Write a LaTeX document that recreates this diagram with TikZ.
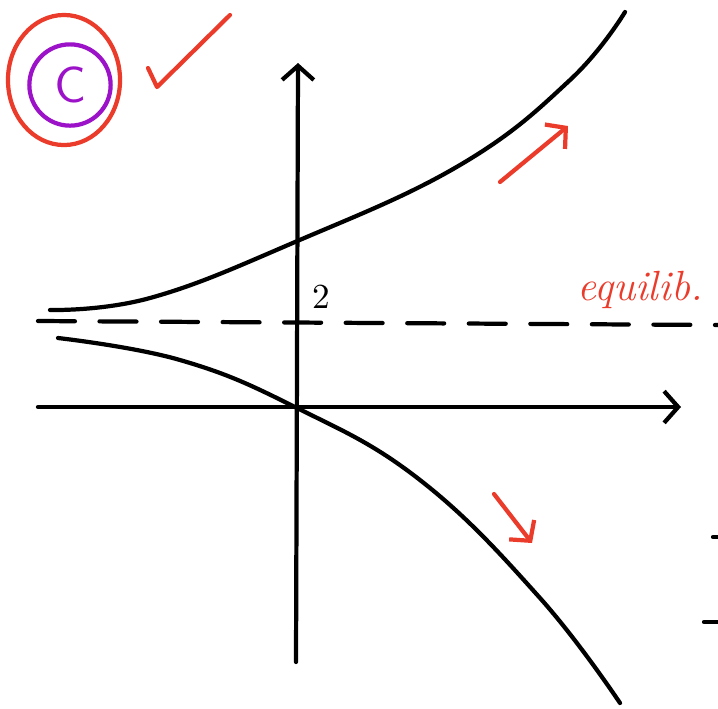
\documentclass[tikz,border=0pt]{standalone}
\usepackage{amsmath}
\usepackage{xcolor}
\usetikzlibrary{arrows.meta,shapes.geometric}
\definecolor{penred}{HTML}{EA3B2B}
\definecolor{penpurple}{HTML}{9C12C8}
\tikzset{
  pen/.style={line width=1.2pt, line cap=round, line join=round},
  redpen/.style={pen, penred},
  barb/.style={-{Straight Barb[length=4pt,width=9pt]}}
}

\begin{document}
\begin{tikzpicture}[x=0.01cm, y=-0.01cm]
    \useasboundingbox (0,0) rectangle (718,708);
    % axes
    \coordinate (O) at (295,407); \coordinate (xl) at (38,407);
    \coordinate (xr) at (681,407); \coordinate (yb) at (296,662);
    \coordinate (yt) at (298,63);
    \draw[pen, barb] (xl) -- (xr);
    \draw[pen, barb] (yb) -- (yt);
    % equilibrium
    \coordinate (el) at (38,321); \coordinate (er) at (718,325);
    \draw[pen, dash pattern=on 10.5pt off 7pt] (el) -- (er);
    \node (two) at (321,297) {$2$};
    \node[text=penred] (eq) at (640,290) {\large\itshape equilib.};
    % solution curves
    \draw[pen] plot[smooth, tension=0.7] coordinates {(50,310) (150,298)
      (295,242) (460,165) (570,80) (625,12)};
    \draw[pen] plot[smooth, tension=0.7] coordinates {(58,338) (180,360)
      (295,407) (420,480) (540,598) (620,703)};
    % red arrows
    \coordinate (ua) at (500,182); \coordinate (ub) at (568,126);
    \draw[redpen, barb] (ua) -- (ub);
    \coordinate (da) at (494,494); \coordinate (db) at (532,543);
    \draw[redpen, barb] (da) -- (db);
    % circled answer
    \node[circle, draw=penpurple, pen, text=penpurple, minimum size=0.7cm,
      font=\sffamily\Large] (C) at (70,85) {C};
    \node[ellipse, draw=penred, pen, minimum width=1.12cm,
      minimum height=1.3cm] (ring) at (64,80) {};
    \coordinate (t1) at (148,68); \coordinate (t2) at (157,87);
    \coordinate (t3) at (230,15);
    \draw[redpen] (t1) -- (t2) -- (t3);
    % edge marks
    \coordinate (m1) at (713,537); \coordinate (m2) at (718,537);
    \coordinate (m3) at (704,622); \coordinate (m4) at (718,622);
    \draw[pen] (m1) -- (m2); \draw[pen] (m3) -- (m4);
  \end{tikzpicture}
\end{document}
